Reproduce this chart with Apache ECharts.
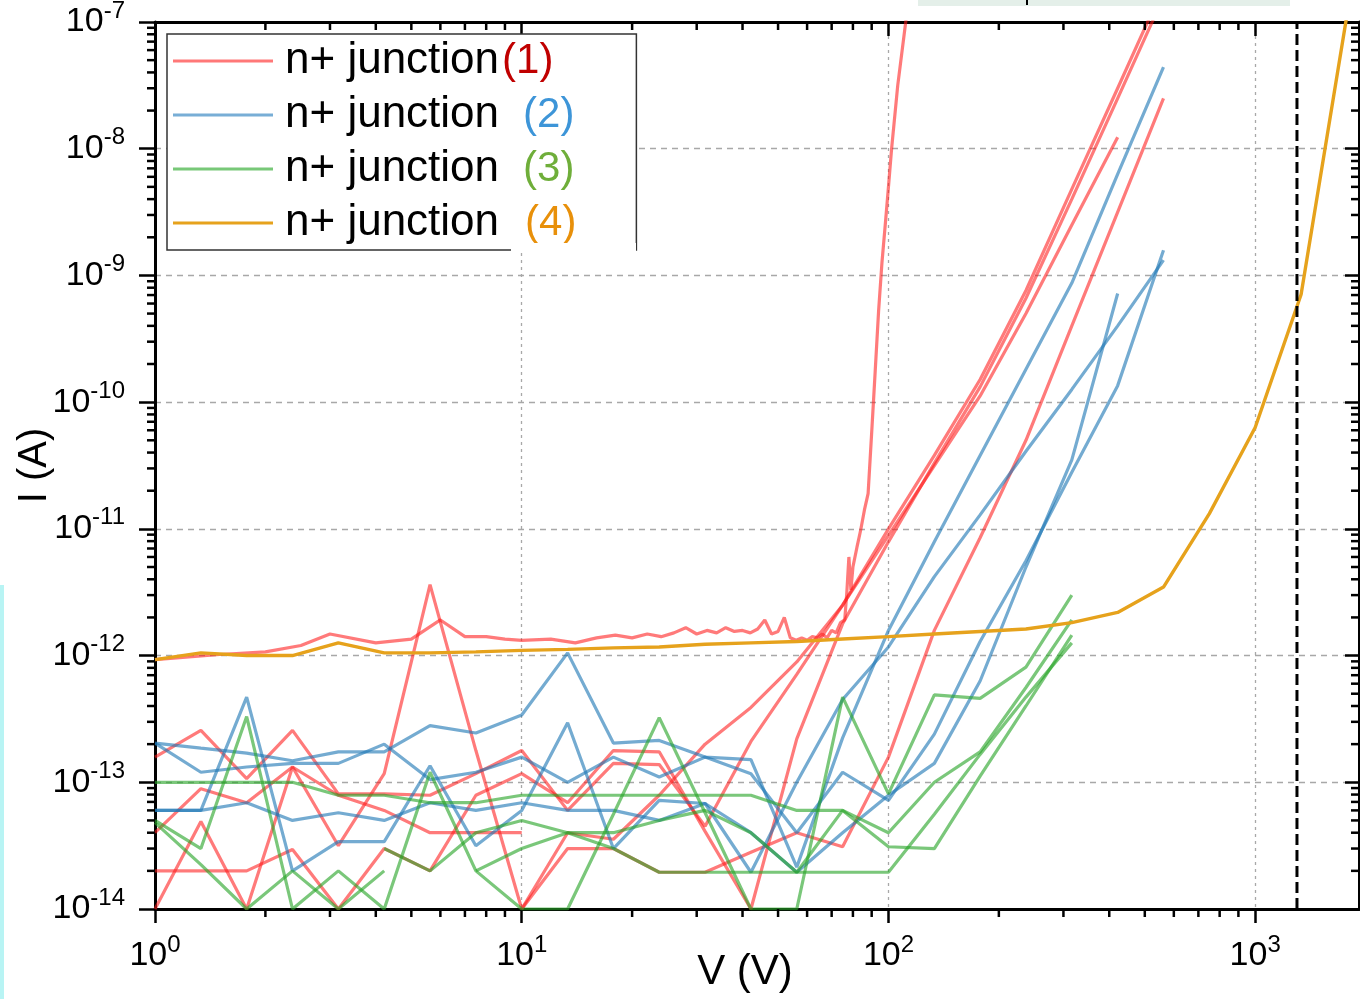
<!DOCTYPE html>
<html><head><meta charset="utf-8">
<script src="https://cdn.jsdelivr.net/npm/echarts@6/dist/echarts.min.js"></script>
<style>html,body{margin:0;padding:0;background:#fff}#c{width:1360px;height:999px}</style>
</head><body><div id="c"></div>
<script>
// ---- data (voltage grid, 8 points per decade) ----
const voltage = [1, 1.334, 1.778, 2.371, 3.162, 4.217, 5.623, 7.499, 10, 13.34, 17.78, 23.71, 31.62, 42.17, 56.23, 74.99, 100, 133.4, 177.8, 237.1, 316.2, 421.7, 562.3, 749.9, 1000, 1334, 1778];

// red group (1): fine-step sweep
const red1Voltage = [1, 1.5, 2, 2.5, 3, 4, 5, 6, 7, 8, 9, 10, 12, 14, 16, 18, 20, 22, 24, 26, 28, 30, 32, 34, 36, 38, 40, 42, 44, 46, 48, 50, 52, 54, 56, 58, 60, 62, 64, 66, 68, 70, 72, 74, 76, 77, 78, 79, 80, 82, 84, 86, 88, 90, 92, 94, 96, 98, 100, 102, 106, 112];
const red1Current = [0.93e-12, 1.02e-12, 1.07e-12, 1.20e-12, 1.48e-12, 1.26e-12, 1.35e-12, 1.91e-12, 1.41e-12, 1.41e-12, 1.35e-12, 1.32e-12, 1.35e-12, 1.26e-12, 1.38e-12, 1.45e-12, 1.38e-12, 1.48e-12, 1.41e-12, 1.51e-12, 1.66e-12, 1.48e-12, 1.58e-12, 1.51e-12, 1.66e-12, 1.55e-12, 1.58e-12, 1.51e-12, 1.62e-12, 1.91e-12, 1.48e-12, 1.55e-12, 2.0e-12, 1.38e-12, 1.32e-12, 1.38e-12, 1.32e-12, 1.41e-12, 1.38e-12, 1.48e-12, 1.38e-12, 1.58e-12, 1.51e-12, 1.82e-12, 1.91e-12, 3.16e-12, 6.0e-12, 3.3e-12, 5.0e-12, 7.1e-12, 9.8e-12, 1.41e-11, 1.9e-11, 5.75e-11, 1.74e-10, 5.25e-10, 1.26e-9, 2.51e-9, 5.0e-9, 1.0e-8, 3.16e-8, 1.12e-7];
// red group (1): on the voltage grid
const red2 = [1.0e-14, 4.9e-14, 1.0e-14, 1.32e-13, 3.16e-14, 1.17e-13, 3.63e-12, 1.78e-13, 1.0e-14, 4.0e-14, 3.55e-14, 7.9e-14, 2.0e-13, 3.9e-13, 8.9e-13, 2.5e-12, 8.9e-12, 3.16e-11, 1.12e-10, 5.0e-10, 2.5e-9, 1.23e-8];
const red3 = [1.58e-13, 2.57e-13, 1.07e-13, 2.57e-13, 8.1e-14, 8.1e-14, 7.9e-14, 1.17e-13, 1.78e-13, 6.0e-14, 1.41e-13, 1.38e-13, 4.5e-14, 2.1e-13, 7.1e-13, 2.5e-12, 1.0e-11, 3.8e-11, 1.51e-10, 7.6e-10, 4.8e-9, 3.0e-8, 1.9e-7];
const red4 = [2.0e-14, 2.0e-14, 2.0e-14, 2.95e-14, 1.0e-14, 3.0e-14, 2.0e-14, 7.9e-14, 1.17e-13, 6.9e-14, 1.78e-13, 1.74e-13, 4.1e-14, 1.0e-14, 2.2e-13, 1.78e-12, 7.9e-12, 3.3e-11, 1.32e-10, 6.6e-10, 4.0e-9, 2.5e-8, 1.58e-7];
const red5 = [null, null, null, null, null, null, null, null, 1.0e-14, 3.0e-14, 3.0e-14, 1.95e-14, 1.95e-14, 2.8e-14, 4.0e-14, 3.1e-14, 1.58e-13, 1.58e-12, 8.5e-12, 5.0e-11, 4.0e-10, 3.16e-9, 2.5e-8];
const red6 = [4.0e-14, 8.9e-14, 6.9e-14, 1.32e-13, 7.9e-14, 6.0e-14, 4.0e-14, 4.0e-14, 4.0e-14];

// blue group (2)
const blue1 = [2.04e-13, 1.86e-13, 1.7e-13, 1.48e-13, 1.74e-13, 1.74e-13, 2.8e-13, 2.45e-13, 3.4e-13, 1.05e-12, 2.04e-13, 2.14e-13, 1.58e-13, 1.51e-13, 2.14e-14, 2.24e-13, 1.58e-12, 7.9e-12, 3.8e-11, 1.82e-10, 8.7e-10, 6.3e-9, 4.4e-8];
const blue2 = [2.04e-13, 1.2e-13, 1.32e-13, 1.41e-13, 1.41e-13, 2.0e-13, 1.05e-13, 1.2e-13, 1.58e-13, 1.0e-13, 1.58e-13, 1.1e-13, 1.58e-13, 1.17e-13, 4.0e-14, 1.2e-13, 7.2e-14, 2.4e-13, 1.29e-12, 5.6e-12, 2.8e-11, 1.35e-10, 1.58e-9];
const blue3 = [6.0e-14, 6.0e-14, 4.7e-13, 2.0e-14, 3.4e-14, 3.4e-14, 1.35e-13, 3.16e-14, 6.0e-14, 2.95e-13, 3.0e-14, 7.2e-14, 6.8e-14, 1.95e-14, 1.0e-13, 4.5e-13, 1.17e-12, 4.2e-12, 1.29e-11, 4.1e-11, 1.26e-10, 4.0e-10, 1.32e-9];
const blue4 = [6.0e-14, 6.0e-14, 6.9e-14, 5.0e-14, 5.75e-14, 5.0e-14, 6.9e-14, 6.0e-14, 6.9e-14, 6.0e-14, 6.0e-14, 5.0e-14, 6.8e-14, 4.0e-14, 1.95e-14, 4.0e-14, 7.9e-14, 1.41e-13, 6.3e-13, 5.0e-12, 3.5e-11, 7.2e-10];

// green group (3)
const green1 = [1.0e-13, 1.0e-13, 1.0e-13, 1.0e-13, 7.9e-14, 7.9e-14, 6.9e-14, 6.9e-14, 7.9e-14, 7.9e-14, 7.9e-14, 7.9e-14, 7.9e-14, 7.9e-14, 6.0e-14, 6.0e-14, 4.0e-14, 1.0e-13, 1.74e-13, 5.6e-13, 1.91e-12];
const green2 = [5.0e-14, 3.0e-14, 3.3e-13, 1.0e-14, 2.0e-14, 1.0e-14, 1.2e-13, 2.0e-14, 1.0e-14, 1.0e-14, 5.6e-14, 3.24e-13, 5.75e-14, 1.0e-14, 1.0e-14, 4.7e-13, 8.1e-14, 4.9e-13, 4.6e-13, 8.1e-13, 3.0e-12];
const green3 = [4.8e-14, 2.24e-14, 1.0e-14, 2.0e-14, 1.0e-14, 2.0e-14];
const green4 = [null, null, null, null, null, null, null, 2.0e-14, 3.0e-14, 4.0e-14, 4.0e-14, 5.0e-14, 6.0e-14, 4.0e-14, 1.95e-14, 6.0e-14, 3.1e-14, 3.0e-14, 1.12e-13, 4.0e-13, 1.45e-12];
const green5 = [null, null, null, null, null, 3.0e-14, 2.0e-14, 4.0e-14, 5.0e-14, 4.0e-14, 3.0e-14, 1.95e-14, 1.95e-14, 1.95e-14, 1.95e-14, 1.95e-14, 1.95e-14, 5.6e-14, 1.66e-13, 4.7e-13, 1.26e-12];

// orange group (4)
const orange1 = [9.3e-13, 1.05e-12, 1.0e-12, 1.0e-12, 1.26e-12, 1.05e-12, 1.05e-12, 1.07e-12, 1.10e-12, 1.12e-12, 1.15e-12, 1.17e-12, 1.23e-12, 1.26e-12, 1.29e-12, 1.35e-12, 1.41e-12, 1.48e-12, 1.55e-12, 1.62e-12, 1.82e-12, 2.19e-12, 3.47e-12, 1.32e-11, 6.31e-11, 7.08e-10, 1.12e-7];

const breakdownVoltage = 1300;
const xRange = [1, 1919];
const yRange = [1e-14, 1e-7];
const minorX = [2,3,4,5,6,7,8,9, 20,30,40,50,60,70,80,90, 200,300,400,500,600,700,800,900];
const minorYMantissa = [2,3,4,5,6,7,8,9];
const yDecades = [-14,-13,-12,-11,-10,-9,-8];
const legendNames = ['n+ junction(1)', 'n+ junction(2)', 'n+ junction(3)', 'n+ junction(4)'];

// ---- build ----
const minorY = [];
yDecades.forEach(function(e){ minorYMantissa.forEach(function(m){ minorY.push(m * Math.pow(10, e)); }); });
const FONT = '"Liberation Sans", Arial, sans-serif';
function onGrid(arr) {
  return arr.map(function (v, i) { return v == null ? null : [voltage[i], v]; }).filter(Boolean);
}
function lineSeries(name, data, color, legendColor, opacity, width, z) {
  return {
    type: 'line', name: name, data: data, symbol: 'none', showSymbol: false, z: z,
    itemStyle: { color: legendColor },
    lineStyle: { color: color, width: width, opacity: opacity },
    emphasis: { disabled: true }
  };
}
const RED = 'rgb(255,25,25)', RED_L = '#ff7878';
const BLUE = 'rgb(31,119,180)', BLUE_L = '#78aed6';
const GREEN = 'rgb(40,165,40)', GREEN_L = '#78c878';
const ORANGE = '#e6a21c';

const series = [];
series.push(lineSeries(legendNames[0], red1Voltage.map(function (v, i) { return [v, red1Current[i]]; }), RED, RED_L, 0.58, 3.2, 2));
[red2, red3, red4, red5, red6].forEach(function (a) { series.push(lineSeries(legendNames[0], onGrid(a), RED, RED_L, 0.58, 3.2, 2)); });
[blue1, blue2, blue3, blue4].forEach(function (a) { series.push(lineSeries(legendNames[1], onGrid(a), BLUE, BLUE_L, 0.62, 3.2, 3)); });
[green1, green2, green3, green4, green5].forEach(function (a) { series.push(lineSeries(legendNames[2], onGrid(a), GREEN, GREEN_L, 0.62, 3.2, 4)); });
series.push(lineSeries(legendNames[3], onGrid(orange1), ORANGE, ORANGE, 1, 3.4, 5));

// breakdown reference line
series.push({
  type: 'line', name: 'breakdown', data: [[breakdownVoltage, yRange[0]], [breakdownVoltage, yRange[1]]],
  symbol: 'none', z: 6, lineStyle: { color: '#000', width: 3, type: [11, 5] }, emphasis: { disabled: true }
});
// minor ticks (log-distributed) drawn through the axis scales
series.push({
  type: 'custom', name: 'minorX', clip: false, z: 10, silent: true,
  data: minorX.map(function (v) { return [v, yRange[0]]; }),
  renderItem: function (params, api) {
    const v = api.value(0);
    const b = api.coord([v, yRange[0]]), t = api.coord([v, yRange[1]]);
    return { type: 'group', children: [
      { type: 'line', shape: { x1: b[0], y1: b[1], x2: b[0], y2: b[1] + 8 }, style: { stroke: '#000', lineWidth: 2.5 } },
      { type: 'line', shape: { x1: t[0], y1: t[1], x2: t[0], y2: t[1] + 8 }, style: { stroke: '#000', lineWidth: 2.5 } }
    ] };
  }
});
series.push({
  type: 'custom', name: 'minorY', clip: false, z: 10, silent: true,
  data: minorY.map(function (v) { return [xRange[0], v]; }),
  renderItem: function (params, api) {
    const v = api.value(1);
    const l = api.coord([xRange[0], v]), r = api.coord([xRange[1], v]);
    return { type: 'group', children: [
      { type: 'line', shape: { x1: l[0] - 8, y1: l[1], x2: l[0], y2: l[1] }, style: { stroke: '#000', lineWidth: 2.5 } },
      { type: 'line', shape: { x1: r[0] - 8, y1: r[1], x2: r[0], y2: r[1] }, style: { stroke: '#000', lineWidth: 2.5 } }
    ] };
  }
});

function expLabel(v) {
  const lg = Math.log10(v), e = Math.round(lg);
  if (Math.abs(lg - e) > 1e-6) return '';
  return '{b|10}{e|' + e + '}';
}
const labelRich = {
  b: { fontSize: 34, fontFamily: FONT, color: '#000' },
  e: { fontSize: 24, fontFamily: FONT, color: '#000', padding: [0, 0, 22, 0] }
};
const axisLineStyle = { show: true, lineStyle: { color: '#000', width: 3 } };

const option = {
  animation: false,
  backgroundColor: '#fff',
  grid: { left: 155, right: 1, top: 22, bottom: 90, containLabel: false, outerBoundsMode: 'none' },
  xAxis: [
    { type: 'log', logBase: 10, min: xRange[0], max: xRange[1], splitNumber: 3, position: 'bottom',
      axisLine: axisLineStyle,
      axisTick: { show: true, inside: false, length: 14, lineStyle: { color: '#000', width: 2.5 } },
      axisLabel: { formatter: expLabel, margin: 24, rich: labelRich, showMaxLabel: false },
      splitLine: { show: true, lineStyle: { color: '#a8a8a8', width: 1.3, type: [3, 4] } },
      name: 'V (V)', nameLocation: 'middle', nameGap: 42, nameMoveOverlap: false,
      nameTextStyle: { fontSize: 42, fontFamily: FONT, color: '#000', padding: [0, 24, 0, 0] } },
    { type: 'log', logBase: 10, min: xRange[0], max: xRange[1], splitNumber: 3, position: 'top',
      axisLine: axisLineStyle,
      axisTick: { show: true, inside: true, length: 14, lineStyle: { color: '#000', width: 2.5 } },
      axisLabel: { show: false }, splitLine: { show: false } }
  ],
  yAxis: [
    { type: 'log', logBase: 10, min: yRange[0], max: yRange[1], splitNumber: 7, position: 'left',
      axisLine: axisLineStyle,
      axisTick: { show: true, inside: false, length: 16, lineStyle: { color: '#000', width: 2.5 } },
      axisLabel: { formatter: expLabel, margin: 30, rich: labelRich },
      splitLine: { show: true, lineStyle: { color: '#a8a8a8', width: 1.3, type: [6, 5] } },
      name: 'I (A)', nameLocation: 'middle', nameGap: 100, nameRotate: 90, nameMoveOverlap: false,
      nameTextStyle: { fontSize: 40, fontFamily: FONT, color: '#000' } },
    { type: 'log', logBase: 10, min: yRange[0], max: yRange[1], splitNumber: 7, position: 'right',
      axisLine: axisLineStyle,
      axisTick: { show: true, inside: true, length: 14, lineStyle: { color: '#000', width: 2.5 } },
      axisLabel: { show: false }, splitLine: { show: false } }
  ],
  legend: {
    data: legendNames, orient: 'vertical', left: 167, top: 34,
    padding: [5, 60, 5, 6], itemWidth: 100, itemHeight: 3, itemGap: 10, icon: 'rect',
    backgroundColor: '#fff', borderColor: '#333', borderWidth: 1.5, borderRadius: 0,
    selectedMode: false,
    textStyle: { fontFamily: FONT, fontSize: 44, color: '#000',
      rich: {
        t: { fontSize: 44, fontFamily: FONT, color: '#000', lineHeight: 46, padding: [0, 0, 0, 7] },
        c1: { fontSize: 42, fontFamily: FONT, color: '#c00000', lineHeight: 46, padding: [0, 0, 0, 3] },
        c2: { fontSize: 42, fontFamily: FONT, color: '#3d95d8', lineHeight: 46, padding: [0, 0, 0, 24] },
        c3: { fontSize: 42, fontFamily: FONT, color: '#6fae3a', lineHeight: 46, padding: [0, 0, 0, 24] },
        c4: { fontSize: 42, fontFamily: FONT, color: '#e8900a', lineHeight: 46, padding: [0, 0, 0, 26] }
      } },
    formatter: function (name) {
      const m = name.match(/^(.*?)\((\d)\)$/);
      return '{t|' + m[1] + '}{c' + m[2] + '|(' + m[2] + ')}';
    }
  },
  graphic: [
    { type: 'rect', z: 100, shape: { x: 511, y: 243, width: 125, height: 9 }, style: { fill: '#fff' } },
    { type: 'rect', z: 100, shape: { x: 918, y: 0, width: 372, height: 6 }, style: { fill: '#e4efe9' } },
    { type: 'rect', z: 101, shape: { x: 1026, y: 0, width: 2, height: 5 }, style: { fill: '#000' } },
    { type: 'rect', z: 100, shape: { x: 0, y: 585, width: 4, height: 414 }, style: { fill: '#b8f4f4' } }
  ],
  series: series
};
echarts.init(document.getElementById('c'), null, { renderer: 'canvas' }).setOption(option);
</script></body></html>
